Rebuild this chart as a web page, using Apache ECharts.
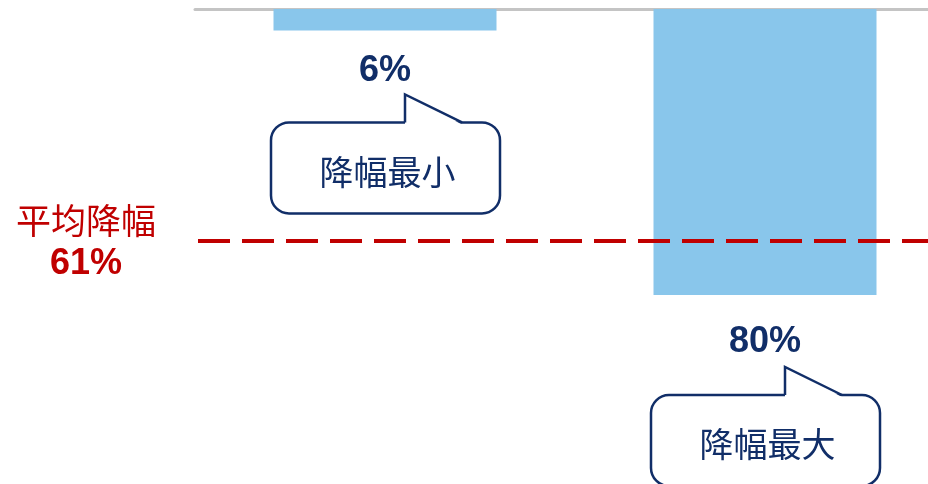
<!DOCTYPE html>
<html>
<head>
<meta charset="utf-8">
<script src="https://cdn.jsdelivr.net/npm/echarts@6/dist/echarts.min.js"></script>
<style>
  html, body { margin: 0; padding: 0; background: #fff; }
  #chart { width: 928px; height: 484px; }
</style>
</head>
<body>
<div id="chart"></div>
<script>
// 两家降幅对比，平均降幅用虚线标出
const categories = ['A', 'B'];
const dropValues = [6, 80];
const calloutTexts = ['降幅最小', '降幅最大'];
const avgLineValue = 64.9;   // 虚线在图上的位置
const avgLabel = '61%';

const navy = '#112E68';
const red = '#C00000';

// 标签与标注框的偏移（像素）
const labelDistance = [23, 29];
const calloutGap = [92, 100];

const chart = echarts.init(document.getElementById('chart'));

const option = {
  animation: false,
  grid: { left: 195, top: 9, width: 760, height: 357.5, outerBoundsMode: 'none', containLabel: false },
  xAxis: {
    type: 'category',
    position: 'top',
    data: categories,
    axisLine: { lineStyle: { color: '#C4C4C4', width: 3 } },
    axisTick: { show: false },
    axisLabel: { show: false }
  },
  yAxis: {
    type: 'value',
    inverse: true,
    min: 0,
    max: 100,
    show: false,
    splitLine: { show: false }
  },
  series: [{
    type: 'bar',
    barWidth: 223,
    itemStyle: { color: '#89C6EB' },
    data: dropValues.map((v, i) => ({
      value: v,
      label: { distance: labelDistance[i] }
    })),
    label: {
      show: true,
      position: 'bottom',
      formatter: '{c}%',
      color: navy,
      fontSize: 36,
      fontWeight: 'bold',
      fontFamily: 'Liberation Sans, Arial, sans-serif'
    },
    markLine: {
      silent: true,
      symbol: 'none',
      label: { show: false },
      lineStyle: { color: red, width: 4, type: [32, 12], dashOffset: -3 },
      data: [{ yAxis: avgLineValue }]
    }
  }]
};
chart.setOption(option);

const graphics = [];
categories.forEach((c, i) => {
  const p = chart.convertToPixel({ gridIndex: 0 }, [c, dropValues[i]]);
  const left = p[0] - 114;
  const top = p[1] + calloutGap[i];
  const w = 229, h = 91;
  // 圆角框
  graphics.push({
    type: 'rect',
    shape: { x: left, y: top, width: w, height: h, r: 18 },
    style: { fill: '#fff', stroke: navy, lineWidth: 2.5 },
    z: 10
  });
  // 尖角：先用白色盖住边框，再画两条边
  graphics.push({
    type: 'polygon',
    shape: { points: [[left + 134, top + 2], [left + 134, top - 28], [left + 191, top + 2]] },
    style: { fill: '#fff', stroke: null },
    z: 11
  });
  graphics.push({
    type: 'polyline',
    shape: { points: [[left + 134, top], [left + 134, top - 28], [left + 191, top]] },
    style: { fill: null, stroke: navy, lineWidth: 2.5, lineJoin: 'miter' },
    z: 12
  });
  graphics.push({
    type: 'text',
    x: left + w / 2 + 2,
    y: top + h / 2 + 4,
    style: {
      text: calloutTexts[i],
      fill: navy,
      fontSize: 34,
      fontFamily: 'Noto Sans CJK SC',
      align: 'center',
      verticalAlign: 'middle'
    },
    z: 13
  });
});

graphics.push({
  type: 'text',
  x: 86, y: 221,
  style: {
    text: '平均降幅', fill: red, fontSize: 35,
    fontFamily: 'Noto Sans CJK SC', align: 'center', verticalAlign: 'middle'
  }
});
graphics.push({
  type: 'text',
  x: 86, y: 264,
  style: {
    text: avgLabel, fill: red, fontSize: 36, fontWeight: 'bold',
    fontFamily: 'Liberation Sans, Arial, sans-serif', align: 'center', verticalAlign: 'middle'
  }
});

chart.setOption({ graphic: graphics });

window.onresize = () => {
  chart.resize();
};
</script>
</body>
</html>
